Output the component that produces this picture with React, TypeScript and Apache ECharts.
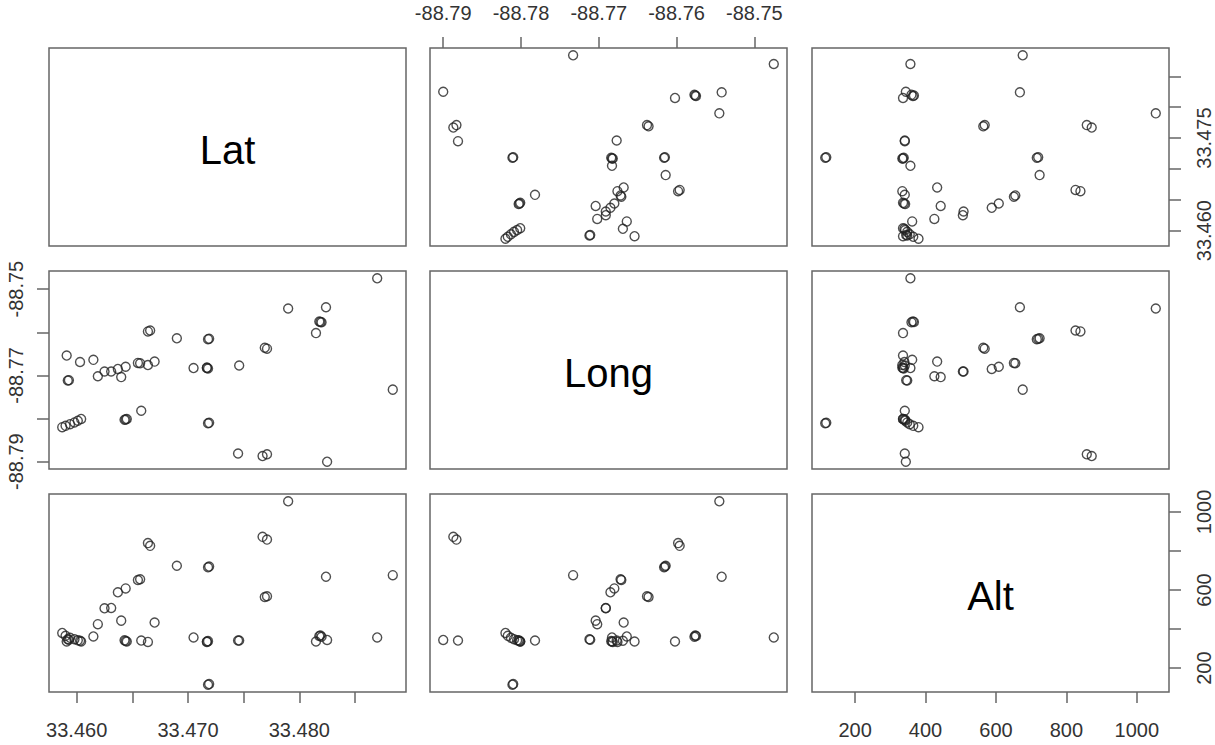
import React, { useEffect, useRef } from "react";
import * as echarts from "echarts";

const varNames = ["Lat", "Long", "Alt"];

const lat = [
  33.487, 33.479, 33.4824, 33.4819, 33.482, 33.4818, 33.4815, 33.4666, 33.4664, 33.469,
  33.4718, 33.4719, 33.4769, 33.4771, 33.4591, 33.4603, 33.4615, 33.4619, 33.4625, 33.4631,
  33.4637, 33.464, 33.4644, 33.4655, 33.4657, 33.4664, 33.467, 33.4705, 33.4717, 33.4718,
  33.4717, 33.4746, 33.4592, 33.4593, 33.4884, 33.4658, 33.4644, 33.4645, 33.4643, 33.4587,
  33.459, 33.4594, 33.4598, 33.4601, 33.4604, 33.4718, 33.4719, 33.4745, 33.4767, 33.4771,
  33.4825,
];
const lon = [
  -88.7475, -88.7545, -88.7542, -88.7576, -88.7577, -88.7575, -88.7602, -88.7596, -88.7598, -88.7614,
  -88.7616, -88.7615, -88.7636, -88.7638, -88.7654, -88.7669, -88.7664, -88.7702, -88.7691, -88.7691,
  -88.7685, -88.7704, -88.768, -88.7671, -88.7672, -88.7676, -88.7668, -88.7683, -88.7683, -88.7684,
  -88.7682, -88.7677, -88.7712, -88.7711, -88.7733, -88.7782, -88.7802, -88.7801, -88.7803, -88.782,
  -88.7817, -88.7813, -88.7809, -88.7805, -88.7801, -88.7811, -88.781, -88.7881, -88.7887, -88.7883,
  -88.79,
];
const alt = [
  357, 1054, 668, 367, 360, 364, 336, 826, 840, 724,
  716, 720, 564, 568, 336, 340, 362, 425, 506, 508,
  588, 443, 608, 651, 655, 334, 433, 357, 336, 338,
  334, 341, 348, 345, 676, 341, 339, 336, 342, 380,
  365, 355, 348, 342, 336, 115, 118, 341, 872, 858,
  344,
];

const latTicks = [33.46, 33.465, 33.47, 33.475, 33.48, 33.485];
const latLabelsH = [33.46, 33.47, 33.48];
const latLabelsV = [33.46, 33.475];
const longTicks = [-88.79, -88.78, -88.77, -88.76, -88.75];
const longLabelsH = [-88.79, -88.78, -88.77, -88.76, -88.75];
const longLabelsV = [-88.75, -88.77, -88.79];
const altTicks = [200, 400, 600, 800, 1000];
const altLabelsH = [200, 400, 600, 800, 1000];
const altLabelsV = [200, 600, 1000];

const FONT = "'Liberation Sans', Arial, sans-serif";

export default function App() {
  const ref = useRef<HTMLDivElement>(null);
  useEffect(() => {
    document.body.style.margin = "0";
    if (!ref.current) return;
    const chart = echarts.init(ref.current, undefined, { renderer: "svg" });

    const vars = [lat, lon, alt];
    const ranges = vars.map((v) => {
      const mn = Math.min(...v);
      const mx = Math.max(...v);
      const e = (mx - mn) * 0.04;
      return [mn - e, mx + e];
    });
    const ticks = [latTicks, longTicks, altTicks];
    const labelsH = [latLabelsH, longLabelsH, altLabelsH];
    const labelsV = [latLabelsV, longLabelsV, altLabelsV];
    const fmt = [
      (v: number) => v.toFixed(3),
      (v: number) => v.toFixed(2),
      (v: number) => String(Math.round(v)),
    ];

    const colLeft = [49, 430, 812];
    const rowTop = [48, 271, 494];
    const W = 357;
    const H = 198;
    const lineColor = "#666";
    const textColor = "#333";

    const grids: any[] = [];
    const xAxes: any[] = [];
    const yAxes: any[] = [];
    const series: any[] = [];
    const graphics: any[] = [];

    const xVis: Record<string, string> = { "0-1": "top", "2-0": "bottom", "2-2": "bottom" };
    const yVis: Record<string, string> = { "1-0": "left", "0-2": "right", "2-2": "right" };

    for (let i = 0; i < 3; i++) {
      for (let j = 0; j < 3; j++) {
        const idx = i * 3 + j;
        grids.push({
          left: colLeft[j],
          top: rowTop[i],
          width: W,
          height: H,
          show: true,
          borderColor: lineColor,
          borderWidth: 1.5,
          backgroundColor: "transparent",
          containLabel: false,
          outerBoundsMode: "none",
        });
        const xp = xVis[`${i}-${j}`];
        const yp = yVis[`${i}-${j}`];
        xAxes.push({
          type: "value",
          gridIndex: idx,
          min: ranges[j][0],
          max: ranges[j][1],
          position: xp || "bottom",
          show: !!xp,
          splitLine: { show: false },
          axisLine: { show: false },
          axisTick: {
            show: true,
            inside: false,
            length: 11,
            customValues: ticks[j],
            lineStyle: { color: lineColor, width: 1.5 },
          },
          axisLabel: {
            show: true,
            customValues: labelsH[j],
            formatter: fmt[j],
            margin: xp === "bottom" ? 28 : 25,
            fontSize: 20,
            color: textColor,
            fontFamily: FONT,
            hideOverlap: false,
          },
        });
        yAxes.push({
          type: "value",
          gridIndex: idx,
          min: ranges[i][0],
          max: ranges[i][1],
          position: yp || "left",
          show: !!yp,
          splitLine: { show: false },
          axisLine: { show: false },
          axisTick: {
            show: true,
            inside: false,
            length: 12,
            customValues: ticks[i],
            lineStyle: { color: lineColor, width: 1.5 },
          },
          axisLabel: {
            show: true,
            customValues: labelsV[i],
            formatter: fmt[i],
            rotate: 90,
            margin: yp === "left" ? 23 : 25,
            fontSize: 20,
            color: textColor,
            fontFamily: FONT,
            hideOverlap: false,
          },
        });
        if (i === j) {
          graphics.push({
            type: "text",
            x: colLeft[j] + W / 2,
            y: rowTop[i] + H / 2 + 3,
            style: {
              text: varNames[i],
              fontSize: 40,
              fontFamily: FONT,
              fill: "#000",
              textAlign: "center",
              textVerticalAlign: "middle",
              align: "center",
              verticalAlign: "middle",
            },
          });
        } else {
          series.push({
            type: "scatter",
            xAxisIndex: idx,
            yAxisIndex: idx,
            symbol: "circle",
            symbolSize: 9,
            itemStyle: { color: "rgba(0,0,0,0)", borderColor: "#222", borderWidth: 1.4 },
            data: vars[j].map((v, k) => [v, vars[i][k]]),
          });
        }
      }
    }

    chart.setOption({
      animation: false,
      backgroundColor: "#fff",
      grid: grids,
      xAxis: xAxes,
      yAxis: yAxes,
      series,
      graphic: graphics,
    });
    return () => chart.dispose();
  }, []);
  return <div ref={ref} style={{ width: 1215, height: 745 }} />;
}
